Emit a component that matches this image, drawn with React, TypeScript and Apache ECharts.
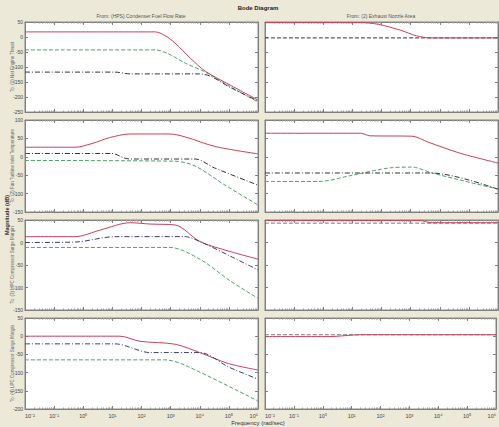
import React, { useEffect, useRef } from "react";
import * as echarts from "echarts";

// Each point: [log10 of frequency (rad/sec), magnitude (dB)]
const r1LeftSolid = [[-2, 17], [2.47, 17], [2.8, 5], [3.15, -20], [3.67, -70], [4.19, -114], [5.04, -160], [6, -210]];
const r1LeftDash = [[-2, -43], [2.47, -43], [2.9, -55], [3.5, -87], [4.19, -117], [5.04, -165], [6, -217]];
const r1LeftDashDot = [[-2, -117], [1.09, -117], [1.61, -123], [4.0, -123], [4.4, -132], [5.04, -168], [6, -213]];
const r1RightSolid = [[-2, 48], [1.28, 48], [1.9, 42], [2.64, 23], [3.2, 4], [3.67, -3], [6, -3]];
const r1RightDash = [[-2, -3], [6, -3]];

const r2LeftSolid = [[-2, 26], [-0.28, 26], [0.3, 36], [0.9, 52], [1.61, 62], [2.98, 62], [3.5, 54], [4.53, 28], [6, 8]];
const r2LeftDashDot = [[-2, 9], [0.99, 9], [1.4, -3], [1.61, -6], [3.84, -6], [4.5, -30], [6, -77]];
const r2LeftDash = [[-2, -10], [3.15, -12], [3.84, -25], [4.87, -77], [6, -131]];
const r2RightSolid = [[-2, 64], [1.28, 64], [1.6, 57], [3.05, 56], [3.6, 40], [4.69, 10], [6, -17]];
const r2RightDash = [[-2, -67], [-0.16, -67], [1.0, -50], [2.3, -30], [3.05, -28], [3.73, -44], [6, -88]];
const r2RightDashDot = [[-2, -44], [3.73, -44], [6, -88]];

const r3LeftSolid = [[-2, 13], [-0.28, 13], [0.6, 28], [1.61, 44], [2.3, 41], [3.15, 39], [4.01, 2], [5.04, -20], [6, -37]];
const r3LeftDashDot = [[-2, 0], [-0.28, 1], [1.09, 13], [3.5, 13], [4.01, 2], [5.04, -30], [6, -61]];
const r3LeftDash = [[-2, -11], [2.98, -11], [4.0, -37], [5.04, -85], [6, -124]];
const r3RightSolid = [[-2, 49], [3.32, 49], [3.7, 44], [6, 44]];
const r3RightDash = [[-2, 43], [6, 43]];

const r4LeftSolid = [[-2, 0], [1.26, 0], [1.95, -14], [3.15, -22], [4.0, -45], [4.98, -75], [6, -93]];
const r4LeftDashDot = [[-2, -21], [1.09, -21], [2.3, -45], [4.01, -45], [5.0, -85], [6, -118]];
const r4LeftDash = [[-2, -65], [2.81, -65], [3.5, -80], [6, -178]];
const r4RightSolid = [[-2, -1], [0.25, -1], [1.3, 4], [6, 4]];
const r4RightDash = [[-2, 4], [6, 4]];

const rowNames = [
  "To: (1) Net Engine Thrust",
  "To: (2) Fan Turbine Inlet Temperature",
  "To: (3) HPC Compressor Surge Margin",
  "To: (4) LPC Compressor Surge Margin",
];
const colTitles = ["From: (HPS) Condenser Fuel Flow Rate", "From: (2) Exhaust Nozzle Area"];
const yMins = [-250, -150, -150, -200];
const yMaxs = [50, 100, 50, 50];
const yStep = 50;
const freqMin = 0.01;
const freqMax = 1e6;

const RED = "#c8405c";
const GREEN = "#4fa06c";
const BLACK = "#333333";
const NAVY = "#3c3c6c";
const GREY = "#777777";

type Line = { data: number[][]; color: string; dash: "solid" | "dash" | "dashdot" };
const panels: Line[][] = [
  [
    { data: r1LeftSolid, color: RED, dash: "solid" },
    { data: r1LeftDash, color: GREEN, dash: "dash" },
    { data: r1LeftDashDot, color: BLACK, dash: "dashdot" },
  ],
  [
    { data: r1RightDash, color: BLACK, dash: "dash" },
    { data: r1RightSolid, color: RED, dash: "solid" },
  ],
  [
    { data: r2LeftSolid, color: RED, dash: "solid" },
    { data: r2LeftDash, color: GREEN, dash: "dash" },
    { data: r2LeftDashDot, color: BLACK, dash: "dashdot" },
  ],
  [
    { data: r2RightSolid, color: RED, dash: "solid" },
    { data: r2RightDash, color: GREEN, dash: "dash" },
    { data: r2RightDashDot, color: BLACK, dash: "dashdot" },
  ],
  [
    { data: r3LeftSolid, color: RED, dash: "solid" },
    { data: r3LeftDash, color: GREEN, dash: "dash" },
    { data: r3LeftDashDot, color: NAVY, dash: "dashdot" },
  ],
  [
    { data: r3RightDash, color: GREY, dash: "dash" },
    { data: r3RightSolid, color: RED, dash: "solid" },
  ],
  [
    { data: r4LeftSolid, color: RED, dash: "solid" },
    { data: r4LeftDash, color: GREEN, dash: "dash" },
    { data: r4LeftDashDot, color: NAVY, dash: "dashdot" },
  ],
  [
    { data: r4RightDash, color: GREY, dash: "dash" },
    { data: r4RightSolid, color: RED, dash: "solid" },
  ],
];

const SUP: Record<string, string> = {
  "-": "⁻", "0": "⁰", "1": "¹", "2": "²", "3": "³", "4": "⁴", "5": "⁵", "6": "⁶", "7": "⁷", "8": "⁸", "9": "⁹",
};
const pow10Label = (v: number) => {
  const e = Math.round(Math.log10(v));
  return "10" + String(e).split("").map((c) => SUP[c] || c).join("");
};

const colLeft = [25, 265];
const colWidth = [233, 233];
const rowTop = [22, 120, 220, 318];
const rowHeight = [90, 92, 90, 91];
const FONT = "Liberation Sans, Arial, sans-serif";

export default function App() {
  const ref = useRef<HTMLDivElement>(null);
  useEffect(() => {
    if (!ref.current) return;
    const chart = echarts.init(ref.current, null, { renderer: "svg" });
    const grids: any[] = [];
    const series: any[] = [];
    const axisLine = { show: true, onZero: false, lineStyle: { color: "#808080", width: 1 } };
    const tick = { show: true, inside: true, length: 3, lineStyle: { color: "#808080" } };
    const minor = { show: true, splitNumber: 9, length: 1.5, lineStyle: { color: "#9a9a9a" } };
    for (let i = 0; i < 8; i++) {
      const row = Math.floor(i / 2);
      const col = i % 2;
      grids.push({
        left: colLeft[col],
        top: rowTop[row],
        width: colWidth[col],
        height: rowHeight[row],
        show: true,
        backgroundColor: "#ffffff",
        borderColor: "#8a8a8a",
        borderWidth: 1,
      });
    }
    const bottom: any[] = [];
    const top: any[] = [];
    const left: any[] = [];
    const right: any[] = [];
    for (let i = 0; i < 8; i++) {
      const row = Math.floor(i / 2);
      const col = i % 2;
      const base = {
        type: "log",
        logBase: 10,
        min: freqMin,
        max: freqMax,
        splitNumber: 8,
        gridIndex: i,
        axisLine,
        axisTick: tick,
        minorTick: minor,
        splitLine: { show: false },
      };
      bottom.push({
        ...base,
        position: "bottom",
        axisLabel: {
          show: row === 3,
          fontSize: 5.5,
          color: "#444",
          fontFamily: FONT,
          margin: 4,
          alignMinLabel: "left",
          alignMaxLabel: "right",
          formatter: pow10Label,
        },
      });
      top.push({ ...base, position: "top", axisLabel: { show: false } });
      const ybase = {
        type: "value",
        min: yMins[row],
        max: yMaxs[row],
        interval: yStep,
        gridIndex: i,
        axisLine,
        axisTick: tick,
        splitLine: { show: false },
      };
      left.push({
        ...ybase,
        position: "left",
        name: col === 0 ? rowNames[row] : "",
        nameLocation: "middle",
        nameGap: 10,
        nameMoveOverlap: false,
        nameRotate: 90,
        nameTextStyle: { fontSize: 4.5, color: "#666", fontFamily: FONT },
        axisLabel: { show: col === 0, fontSize: 5, color: "#444", fontFamily: FONT, margin: 2 },
      });
      right.push({ ...ybase, position: "right", axisLabel: { show: false } });
      panels[i].forEach((ln) => {
        series.push({
          type: "line",
          xAxisIndex: i,
          yAxisIndex: i,
          data: ln.data.map(([e, v]) => [Math.pow(10, e), v]),
          showSymbol: false,
          smooth: 0.3,
          lineStyle: {
            color: ln.color,
            width: 1,
            type: ln.dash === "solid" ? "solid" : ln.dash === "dash" ? [4, 2] : [5, 2, 1, 2],
          },
        });
      });
    }
    chart.setOption({
      animation: false,
      backgroundColor: "#ece9d8",
      grid: grids,
      xAxis: [...bottom, ...top],
      yAxis: [...left, ...right],
      series,
      graphic: [
        {
          type: "text",
          x: 258,
          y: 8,
          style: { text: "Bode Diagram", fontSize: 6, fontWeight: "bold", fill: "#222", fontFamily: FONT, align: "center", verticalAlign: "middle" },
        },
        {
          type: "text",
          x: 141,
          y: 16,
          style: { text: colTitles[0], fontSize: 5, fill: "#555", fontFamily: FONT, align: "center", verticalAlign: "middle" },
        },
        {
          type: "text",
          x: 381,
          y: 16,
          style: { text: colTitles[1], fontSize: 5, fill: "#555", fontFamily: FONT, align: "center", verticalAlign: "middle" },
        },
        {
          type: "text",
          x: 7,
          y: 215,
          rotation: Math.PI / 2,
          style: { text: "Magnitude (dB)", fontSize: 5.5, fontWeight: "bold", fill: "#333", fontFamily: FONT, align: "center", verticalAlign: "middle" },
        },
        {
          type: "text",
          x: 258,
          y: 423,
          style: { text: "Frequency (rad/sec)", fontSize: 6, fill: "#333", fontFamily: FONT, align: "center", verticalAlign: "middle" },
        },
      ],
    });
    return () => chart.dispose();
  }, []);
  return <div ref={ref} style={{ position: "absolute", left: 0, top: 0, width: 499, height: 427 }} />;
}
